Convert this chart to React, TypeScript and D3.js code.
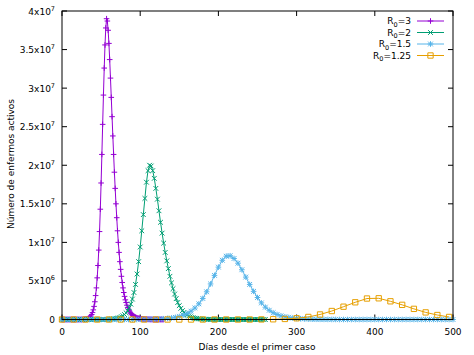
import React from "react";
import * as d3 from "d3";

// values in millions of active cases
const xTicks = [0, 100, 200, 300, 400, 500];
const yTicks = [0, 5, 10, 15, 20, 25, 30, 35, 40];
const yTickMant = ["0", "5", "1", "1.5", "2", "2.5", "3", "3.5", "4"];
const yTickExp = ["", "6", "7", "7", "7", "7", "7", "7", "7"];

const seriesLabels = ["3", "2", "1.5", "1.25"];
const seriesColors = ["#9400d3", "#009e73", "#56b4e9", "#e69f00"];
const seriesMarkers = ["plus", "cross", "star", "square"];

// R0 = 3, daily
const purpleStart = 0;
const purpleStep = 1;
const purpleValues = [
  0, 0, 0, 0, 0, 0, 0, 0, 0, 0,
  0, 0, 0, 0, 0, 0, 0, 0, 0, 0,
  0, 0, 0, 0, 0, 0, 0.01, 0.015, 0.02, 0.03,
  0.04, 0.06, 0.08, 0.11, 0.15, 0.21, 0.3, 0.45, 0.65, 0.9,
  1.25, 1.7, 2.3, 3.1, 4.1, 5.4, 7.0, 9.0, 11.4, 14.3,
  17.7, 21.4, 25.3, 29.1, 32.6, 35.6, 37.8, 39.0, 38.7, 37.5,
  35.8, 33.7, 31.3, 28.8, 26.3, 23.8, 21.4, 19.1, 17.0, 15.0,
  13.2, 11.5, 10.0, 8.7, 7.5, 6.5, 5.6, 4.8, 4.1, 3.5,
  3.0, 2.55, 2.2, 1.85, 1.57, 1.33, 1.13, 0.96, 0.81, 0.69,
  0.58, 0.49, 0.42, 0.35, 0.3, 0.25, 0.21, 0.18, 0.15, 0.13,
  0.11, 0.09, 0.08, 0.07, 0.06, 0.05, 0.04, 0.035, 0.03, 0.025,
  0.02, 0.02, 0.015, 0.01, 0.01, 0, 0, 0, 0, 0,
  0, 0, 0, 0, 0, 0, 0, 0, 0, 0, 0,
];

// R0 = 2, every 2 days
const greenStart = 0;
const greenStep = 2;
const greenValues = [
  0, 0, 0, 0, 0, 0, 0, 0, 0, 0,
  0, 0, 0, 0, 0, 0, 0, 0, 0, 0,
  0, 0, 0, 0, 0, 0, 0, 0, 0, 0,
  0.03, 0.04, 0.06, 0.08, 0.11, 0.15, 0.2, 0.27, 0.36, 0.48,
  0.64, 0.86, 1.15, 1.52, 2.0, 2.65, 3.5, 4.55, 5.9, 7.5,
  9.4, 11.5, 13.6, 15.7, 17.8, 19.3, 20.0, 19.9, 19.3, 18.3,
  17.0, 15.6, 14.1, 12.6, 11.2, 9.9, 8.7, 7.6, 6.6, 5.6,
  4.75, 4.0, 3.3, 2.7, 2.2, 1.8, 1.45, 1.15, 0.92, 0.73,
  0.57, 0.45, 0.35, 0.27, 0.21, 0.16, 0.13, 0.1, 0.08, 0.06,
  0.05, 0.04, 0.03, 0.02, 0.02, 0.01, 0, 0, 0, 0,
  0, 0, 0, 0, 0, 0, 0, 0, 0, 0,
  0, 0, 0, 0, 0, 0, 0, 0, 0, 0,
  0, 0, 0, 0, 0, 0, 0, 0, 0, 0,
  0,
];

// R0 = 1.5, every 5 days
const blueStart = 0;
const blueStep = 5;
const blueValues = [
  0, 0, 0, 0, 0, 0, 0, 0, 0, 0,
  0, 0, 0, 0, 0, 0, 0, 0, 0.006, 0.01,
  0.013, 0.018, 0.025, 0.035, 0.05, 0.07, 0.1, 0.14, 0.2, 0.28,
  0.39, 0.55, 0.77, 1.08, 1.49, 2.03, 2.73, 3.59, 4.61, 5.72,
  6.79, 7.68, 8.21, 8.27, 7.91, 7.3, 6.45, 5.5, 4.55, 3.65,
  2.85, 2.15, 1.6, 1.2, 0.88, 0.65, 0.48, 0.35, 0.26, 0.19,
  0.14, 0.1, 0.075, 0.055, 0.04, 0.03, 0.022, 0.016, 0.012, 0.009,
  0.007, 0, 0, 0, 0, 0, 0, 0, 0, 0,
  0, 0, 0, 0, 0, 0, 0, 0, 0, 0,
  0, 0, 0, 0, 0, 0, 0, 0, 0, 0,
  0,
];

// R0 = 1.25, every 15 days
const orangeStart = 0;
const orangeStep = 15;
const orangeValues = [
  0, 0, 0, 0, 0, 0, 0, 0, 0, 0,
  0, 0, 0, 0, 0, 0, 0, 0.01, 0.03, 0.07,
  0.16, 0.33, 0.65, 1.1, 1.66, 2.23, 2.72, 2.75, 2.36, 1.9,
  1.38, 0.92, 0.58, 0.33,
];

const seriesData = [
  { start: purpleStart, step: purpleStep, values: purpleValues },
  { start: greenStart, step: greenStep, values: greenValues },
  { start: blueStart, step: blueStep, values: blueValues },
  { start: orangeStart, step: orangeStep, values: orangeValues },
];

const FONT = "'DejaVu Sans', sans-serif";

function markerPath(type: string, cx: number, cy: number, s: number) {
  const plus = `M${cx - s},${cy}H${cx + s}M${cx},${cy - s}V${cy + s}`;
  const k = s * 0.85;
  const cross = `M${cx - k},${cy - k}L${cx + k},${cy + k}M${cx - k},${cy + k}L${cx + k},${cy - k}`;
  if (type === "plus") return plus;
  if (type === "cross") return cross;
  if (type === "star") return plus + cross;
  const q = s * 0.95;
  return `M${cx - q},${cy - q}h${2 * q}v${2 * q}h${-2 * q}Z`;
}

export default function App() {
  const W = 474;
  const H = 355;
  const x = d3.scaleLinear().domain([0, 500]).range([62, 453]);
  const y = d3.scaleLinear().domain([0, 40]).range([319.5, 11]);
  const line = d3
    .line<[number, number]>()
    .x((d) => x(d[0]))
    .y((d) => y(d[1]));

  const series = seriesData.map((s) =>
    s.values.map((v, i) => [s.start + i * s.step, v] as [number, number])
  );

  const tick = 5;
  const legendY = [21, 32.5, 44, 55.5];

  return (
    <svg
      width={W}
      height={H}
      style={{ position: "absolute", left: 0, top: 0, background: "#fff" }}
      fontFamily={FONT}
    >
      <rect x={0} y={0} width={W} height={H} fill="#fff" />
      {/* ticks */}
      {yTicks.map((t, i) => (
        <g key={"yt" + i} stroke="#000" strokeWidth={1}>
          <line x1={x(0)} x2={x(0) + tick} y1={y(t)} y2={y(t)} />
          <line x1={x(500)} x2={x(500) - tick} y1={y(t)} y2={y(t)} />
        </g>
      ))}
      {xTicks.map((t, i) => (
        <g key={"xt" + i} stroke="#000" strokeWidth={1}>
          <line x1={x(t)} x2={x(t)} y1={y(0)} y2={y(0) - tick} />
          <line x1={x(t)} x2={x(t)} y1={y(40)} y2={y(40) + tick} />
        </g>
      ))}
      {/* series */}
      {series.map((pts, si) => (
        <g key={"s" + si}>
          <path d={line(pts) || ""} fill="none" stroke={seriesColors[si]} strokeWidth={1} />
          <path
            d={pts.map((p) => markerPath(seriesMarkers[si], x(p[0]), y(p[1]), 2.8)).join("")}
            fill="none"
            stroke={seriesColors[si]}
            strokeWidth={1}
          />
        </g>
      ))}
      {/* border */}
      <rect
        x={x(0)}
        y={y(40)}
        width={x(500) - x(0)}
        height={y(0) - y(40)}
        fill="none"
        stroke="#000"
        strokeWidth={1}
      />
      {/* y tick labels */}
      {yTicks.map((t, i) => (
        <text
          key={"yl" + i}
          x={55}
          y={y(t) + 3.5}
          textAnchor="end"
          fontSize={9}
          fill="#000"
        >
          {yTickMant[i]}
          {yTickExp[i] ? "x10" : ""}
          {yTickExp[i] ? (
            <tspan dy={-4} fontSize={6.5}>
              {yTickExp[i]}
            </tspan>
          ) : null}
        </text>
      ))}
      {/* x tick labels */}
      {xTicks.map((t, i) => (
        <text key={"xl" + i} x={x(t)} y={335} textAnchor="middle" fontSize={9} fill="#000">
          {t}
        </text>
      ))}
      {/* axis titles */}
      <text x={257} y={350} textAnchor="middle" fontSize={9} fill="#000">
        Días desde el primer caso
      </text>
      <text
        transform="translate(14,164) rotate(-90)"
        textAnchor="middle"
        fontSize={9}
        fill="#000"
      >
        Número de enfermos activos
      </text>
      {/* legend */}
      {seriesLabels.map((lab, i) => (
        <g key={"lg" + i}>
          <text x={411} y={legendY[i] + 3} textAnchor="end" fontSize={9} fill="#000">
            R
            <tspan dy={2.5} fontSize={6.5}>
              0
            </tspan>
            <tspan dy={-2.5}>={lab}</tspan>
          </text>
          <line x1={417} x2={444} y1={legendY[i]} y2={legendY[i]} stroke={seriesColors[i]} strokeWidth={1} />
          <path
            d={markerPath(seriesMarkers[i], 430.5, legendY[i], 2.8)}
            fill="none"
            stroke={seriesColors[i]}
            strokeWidth={1}
          />
        </g>
      ))}
    </svg>
  );
}
